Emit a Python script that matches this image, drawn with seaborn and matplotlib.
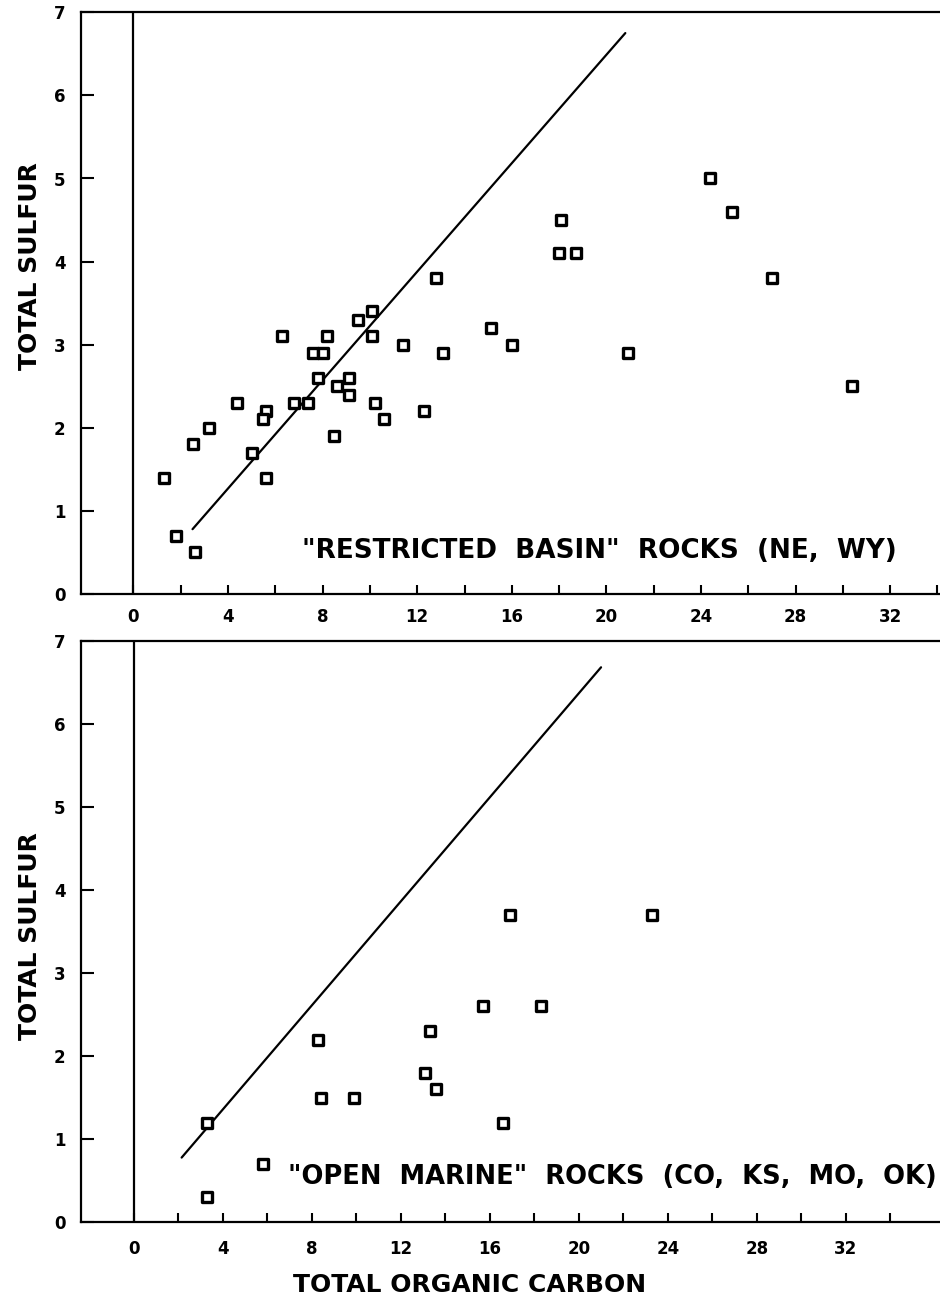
import matplotlib
matplotlib.use("Agg")
import matplotlib.pyplot as plt
import pandas as pd
import seaborn as sns
from matplotlib.ticker import FixedLocator

# "Restricted basin" rocks (NE, WY): total organic carbon vs total sulfur
basin_toc = [1.3, 1.8, 2.6, 2.5, 3.2, 4.4, 5.0, 5.6, 5.6, 5.5,
             6.3, 6.8, 7.4, 7.8, 7.6, 8.0, 8.2, 8.5, 8.6, 9.1,
             9.1, 9.5, 10.1, 10.1, 10.2, 10.6, 11.4, 12.3, 12.8, 13.1,
             15.1, 16.0, 18.1, 18.0, 18.7, 20.9, 24.4, 25.3, 27.0, 30.4]
basin_s = [1.4, 0.7, 0.5, 1.8, 2.0, 2.3, 1.7, 1.4, 2.2, 2.1,
           3.1, 2.3, 2.3, 2.6, 2.9, 2.9, 3.1, 1.9, 2.5, 2.6,
           2.4, 3.3, 3.4, 3.1, 2.3, 2.1, 3.0, 2.2, 3.8, 2.9,
           3.2, 3.0, 4.5, 4.1, 4.1, 2.9, 5.0, 4.6, 3.8, 2.5]

# "Open marine" rocks (CO, KS, MO, OK)
marine_toc = [3.3, 3.3, 5.8, 8.3, 8.4, 9.9, 13.3, 13.1, 13.6, 15.7,
              16.9, 16.6, 18.3, 23.3]
marine_s = [1.2, 0.3, 0.7, 2.2, 1.5, 1.5, 2.3, 1.8, 1.6, 2.6,
            3.7, 1.2, 2.6, 3.7]

# Reference C/S lines
basin_line_toc = [2.5, 20.8]
basin_line_s = [0.78, 6.75]
marine_line_toc = [2.15, 21.0]
marine_line_s = [0.78, 6.68]

y_ticks = [0, 1, 2, 3, 4, 5, 6, 7]
x_major = [0, 4, 8, 12, 16, 20, 24, 28, 32]
x_minor = [2, 6, 10, 14, 18, 22, 26, 30, 34]

sns.set_style("ticks")
plt.rcParams["font.family"] = ["DejaVu Sans"]
plt.rcParams["font.weight"] = "bold"
plt.rcParams["text.color"] = "black"
plt.rcParams["axes.labelcolor"] = "black"
plt.rcParams["xtick.color"] = "black"
plt.rcParams["ytick.color"] = "black"

basin = pd.DataFrame({"toc": basin_toc, "sulfur": basin_s})
marine = pd.DataFrame({"toc": marine_toc, "sulfur": marine_s})

W, H = 940, 1299
fig = plt.figure(figsize=(W / 100, H / 100), dpi=100)
fig.patch.set_facecolor("white")


def make_axes(top_px, bottom_px):
    left = 81 / W
    return fig.add_axes([left, 1 - bottom_px / H, 1 - left, (bottom_px - top_px) / H])


ax1 = make_axes(12.3, 594.0)
ax2 = make_axes(640.7, 1222.4)


def style(ax, xlim, xpad):
    ax.set_xlim(*xlim)
    ax.set_ylim(0, 7)
    ax.set_facecolor("white")
    for side in ("left", "top", "bottom"):
        ax.spines[side].set_linewidth(1.6)
        ax.spines[side].set_color("black")
    ax.spines["right"].set_visible(False)
    ax.axvline(0, color="black", lw=1.6, zorder=1)
    ax.yaxis.set_major_locator(FixedLocator(y_ticks))
    ax.set_yticklabels([str(v) for v in y_ticks])
    ax.xaxis.set_major_locator(FixedLocator(x_major))
    ax.xaxis.set_minor_locator(FixedLocator(x_minor))
    ax.set_xticklabels([str(v) for v in x_major])
    ax.tick_params(axis="y", which="major", direction="in", length=9.5,
                   width=1.5, pad=11, labelsize=12, colors="black")
    ax.tick_params(axis="x", which="both", direction="in", length=6.5,
                   width=1.5, pad=xpad, labelsize=12, colors="black")
    for lab in ax.get_xticklabels() + ax.get_yticklabels():
        lab.set_fontweight("bold")
        lab.set_color("black")
    ax.set_xlabel("")
    ax.set_ylabel("")


marker_kw = dict(marker="s", s=46, color="white", edgecolor="black",
                 linewidth=2.4, zorder=3)

sns.lineplot(x=basin_line_toc, y=basin_line_s, ax=ax1, color="black",
             lw=1.6, sort=False, zorder=2)
sns.scatterplot(data=basin, x="toc", y="sulfur", ax=ax1, **marker_kw)
style(ax1, ((81 - 133.4) / 23.65, (940 - 133.4) / 23.65), 10)
ax1.text(7.13, 0.43, '"RESTRICTED  BASIN"  ROCKS  (NE,  WY)',
         fontsize=18.9, fontweight="bold", ha="left", va="baseline",
         color="black")

sns.lineplot(x=marine_line_toc, y=marine_line_s, ax=ax2, color="black",
             lw=1.6, sort=False, zorder=2)
sns.scatterplot(data=marine, x="toc", y="sulfur", ax=ax2, **marker_kw)
style(ax2, ((81 - 133.8) / 22.25, (940 - 133.8) / 22.25), 13)
ax2.text(6.94, 0.46, '"OPEN  MARINE"  ROCKS  (CO,  KS,  MO,  OK)',
         fontsize=18.5, fontweight="bold", ha="left", va="baseline",
         color="black")

for yc in (266, 936):
    fig.text(30 / W, 1 - yc / H, "TOTAL SULFUR", rotation=90, ha="center",
             va="center", fontsize=18, fontweight="bold", color="black")
fig.text(470 / W, 1 - 1285 / H, "TOTAL ORGANIC CARBON", ha="center",
         va="center", fontsize=18, fontweight="bold", color="black")

fig.savefig("out.png", dpi=100, facecolor="white")
